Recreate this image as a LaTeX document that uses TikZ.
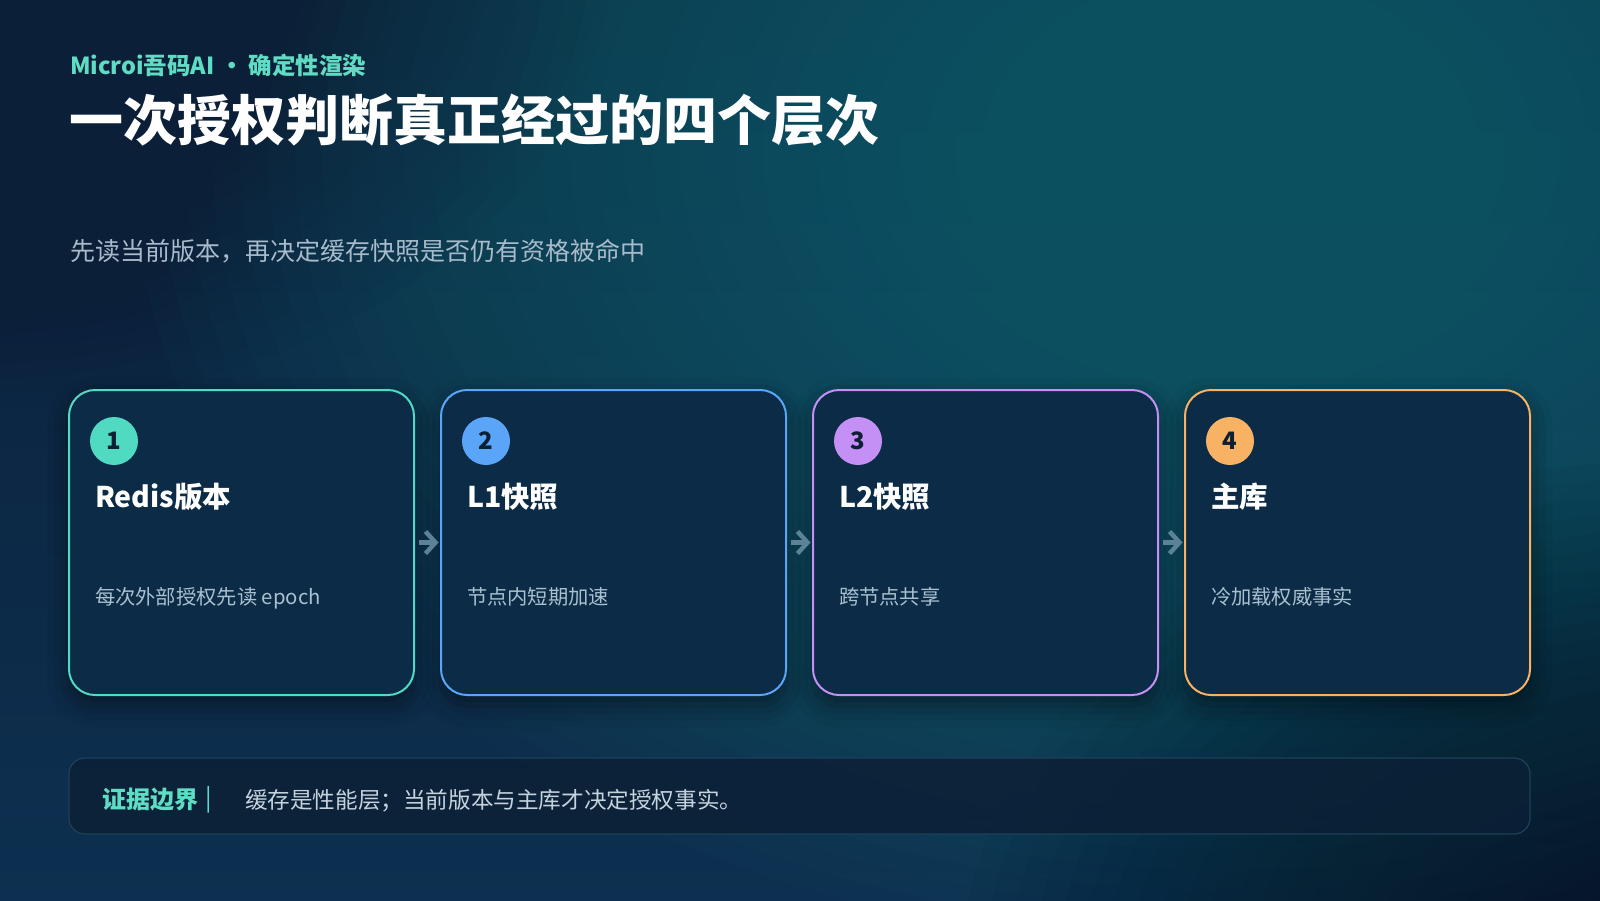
\documentclass[tikz,border=0pt]{standalone}
\usepackage{fontspec}
\setmainfont{Noto Sans CJK SC}
\usetikzlibrary{shadows.blur,calc}
\definecolor{bgtop}{HTML}{0B1F38}
\definecolor{bgbot}{HTML}{0D3050}
\definecolor{glowc}{HTML}{1A6372}
\definecolor{darkc}{HTML}{06121D}
\definecolor{cardfill}{HTML}{0B2B46}
\definecolor{cA}{HTML}{4FDAC1}
\definecolor{cB}{HTML}{5AA5F7}
\definecolor{cC}{HTML}{C490F5}
\definecolor{cD}{HTML}{F7B263}
\definecolor{numtxt}{HTML}{0C1F33}
\definecolor{desctxt}{HTML}{A9C0CF}
\definecolor{subtxt}{HTML}{A8BBCB}
\definecolor{kicker}{HTML}{5EDDC4}
\definecolor{arrowc}{HTML}{5C8296}
\definecolor{barfill}{HTML}{0B2036}
\definecolor{barline}{HTML}{1E4058}
\definecolor{bartxt}{HTML}{C5D3DE}
\begin{document}
\begin{tikzpicture}[x=1pt,y=-1pt,
  txt/.style={inner sep=0pt, outer sep=0pt, anchor=base west},
  card/.style={rounded corners=26pt, line width=2pt, fill=cardfill, minimum width=345pt, minimum height=305pt, inner sep=0pt,
    blur shadow={shadow xshift=0pt, shadow yshift=-10pt, shadow blur radius=22pt, shadow opacity=45}},
  numc/.style={circle, minimum size=48pt, inner sep=0pt, text=numtxt, font=\fontsize{24}{26}\selectfont\bfseries},
  ctitle/.style={txt, text=white, font=\fontsize{28.5}{31}\selectfont\bfseries},
  cdesc/.style={txt, text=desctxt, font=\fontsize{20.3}{24}\selectfont},
  arw/.style={draw=arrowc, line width=4.5pt, line join=miter, line cap=butt}
]
\useasboundingbox (0,0) rectangle (1600,900);
% background
\shade[top color=bgtop, bottom color=bgbot] (0,0) rectangle (1600,900);
\begin{scope}
\clip (0,0) rectangle (1600,900);
\foreach \i in {1,...,40}{
  \fill[glowc, opacity=0.05] (1230,150) ellipse ({27.5*\i} and {20*\i});
}
\foreach \i in {1,...,30}{
  \fill[darkc, opacity=0.04] (1680,980) ellipse ({24*\i} and {17.33*\i});
}
\foreach \i in {1,...,30}{
  \fill[bgtop, opacity=0.045] (-40,-40) ellipse ({21.67*\i} and {15*\i});
}
\end{scope}

% header
\node[txt, text=kicker, font=\fontsize{23.5}{26}\selectfont\bfseries] (kick) at (70,74) {Microi吾码AI · 确定性渲染};
\node[txt, text=white, font=\fontsize{54}{60}\selectfont\bfseries] (title) at (69,140) {一次授权判断真正经过的四个层次};
\node[txt, text=subtxt, font=\fontsize{25}{28}\selectfont] (sub) at (70,260) {先读当前版本，再决定缓存快照是否仍有资格被命中};

% cards
\node[card, draw=cA] (card1) at (241.5,542.5) {};
\node[card, draw=cB] (card2) at (613.5,542.5) {};
\node[card, draw=cC] (card3) at (985.5,542.5) {};
\node[card, draw=cD] (card4) at (1357.5,542.5) {};

\node[numc, fill=cA] (n1) at ($(card1.north west)+(46,52)$) {1};
\node[numc, fill=cB] (n2) at ($(card2.north west)+(46,52)$) {2};
\node[numc, fill=cC] (n3) at ($(card3.north west)+(46,52)$) {3};
\node[numc, fill=cD] (n4) at ($(card4.north west)+(46,52)$) {4};

\node[ctitle] (t1) at ($(card1.north west)+(27,118)$) {Redis版本};
\node[ctitle] (t2) at ($(card2.north west)+(27,118)$) {L1快照};
\node[ctitle] (t3) at ($(card3.north west)+(27,118)$) {L2快照};
\node[ctitle] (t4) at ($(card4.north west)+(27,118)$) {主库};

\node[cdesc] (d1) at ($(card1.north west)+(27,215)$) {每次外部授权先读 epoch};
\node[cdesc] (d2) at ($(card2.north west)+(27,215)$) {节点内短期加速};
\node[cdesc] (d3) at ($(card3.north west)+(27,215)$) {跨节点共享};
\node[cdesc] (d4) at ($(card4.north west)+(27,215)$) {冷加载权威事实};

% arrows between cards
\foreach \a/\b/\m in {card1/card2/m1, card2/card3/m2, card3/card4/m3}{
  \path (\a.east) -- (\b.west) coordinate[midway] (\m);
  \draw[arw] ($(\m)+(-8.5,0)$) -- ($(\m)+(7,0)$);
  \draw[arw] ($(\m)+(-2,-11)$) -- ($(\m)+(8,0)$) -- ($(\m)+(-2,11)$);
}

% bottom bar
\node[rounded corners=16pt, fill=barfill, fill opacity=0.85, draw=barline, line width=1.2pt, minimum width=1461pt, minimum height=76pt, inner sep=0pt] (bar) at (799.5,796) {};
\node[txt, text=kicker, font=\fontsize{24}{26}\selectfont\bfseries] (blab) at (102,808) {证据边界};
\node[txt, text=kicker, font=\fontsize{24}{26}\selectfont] (bsep) at (205,806) {|};
\node[txt, text=bartxt, font=\fontsize{22.6}{26}\selectfont] (btxt) at (245,808) {缓存是性能层；当前版本与主库才决定授权事实。};
\end{tikzpicture}
\end{document}
